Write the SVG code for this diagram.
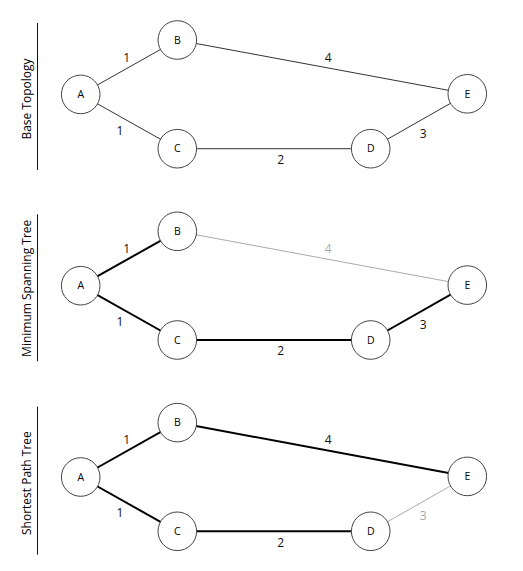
<svg xmlns="http://www.w3.org/2000/svg" width="523" height="571" viewBox="0 0 523 571">
<style>
  .node circle { fill: #ffffff; stroke: #444444; stroke-width: 1; }
  .node text { font-family: "Open Sans", "DejaVu Sans", sans-serif; font-size: 10.5px; fill: #000000; text-anchor: middle; }
  .e { stroke: #333333; stroke-width: 1; fill: none; }
  .t { stroke: #000000; stroke-width: 2; fill: none; }
  .g { stroke: #aaaaaa; stroke-width: 1; fill: none; }
  .lbl { font-family: "Open Sans", "DejaVu Sans", sans-serif; font-size: 12px; fill: #111111; text-anchor: middle; }
  .lbl.gray { fill: #aaaaaa; }
  .title { font-family: "Open Sans", "DejaVu Sans", sans-serif; font-size: 12px; fill: #000000; text-anchor: middle; }
  .axis { stroke: #111111; stroke-width: 1; }
</style>
<rect width="523" height="571" fill="#ffffff"/>

<!-- Panel 1: Base Topology -->
<g id="panel1">
  <g id="p1-axis">
    <line class="axis" x1="37.5" y1="23" x2="37.5" y2="170"/>
    <text class="title" transform="translate(30.5,99) rotate(-90)">Base Topology</text>
  </g>
  <g id="p1-connectors">
    <line class="e" x1="80.7" y1="94.4" x2="177.3" y2="40"/>
    <line class="e" x1="80.7" y1="94.4" x2="177.3" y2="148.7"/>
    <line class="e" x1="177.3" y1="40" x2="467.3" y2="93.8"/>
    <line class="e" x1="177.3" y1="148.7" x2="370.7" y2="148.7"/>
    <line class="e" x1="370.7" y1="148.7" x2="467.3" y2="93.8"/>
    <text class="lbl" x="126.7" y="61.6">1</text>
    <text class="lbl" x="120" y="134.9">1</text>
    <text class="lbl" x="328.3" y="61.6">4</text>
    <text class="lbl" x="280.7" y="164.2">2</text>
    <text class="lbl" x="423.3" y="137.6">3</text>
  </g>
  <g id="p1-A" class="node"><circle cx="80.7" cy="94.4" r="19.3"/><text x="80.7" y="98.1">A</text></g>
  <g id="p1-B" class="node"><circle cx="177.3" cy="40" r="19.3"/><text x="177.3" y="43.7">B</text></g>
  <g id="p1-C" class="node"><circle cx="177.3" cy="148.7" r="19.3"/><text x="177.3" y="152.4">C</text></g>
  <g id="p1-D" class="node"><circle cx="370.7" cy="148.7" r="19.3"/><text x="370.7" y="152.4">D</text></g>
  <g id="p1-E" class="node"><circle cx="467.3" cy="93.8" r="19.3"/><text x="467.3" y="97.5">E</text></g>
</g>

<!-- Panel 2: Minimum Spanning Tree -->
<g id="panel2" transform="translate(0,191.3)">
  <g id="p2-axis">
    <line class="axis" x1="37.5" y1="23" x2="37.5" y2="170"/>
    <text class="title" transform="translate(30.5,97) rotate(-90)">Minimum Spanning Tree</text>
  </g>
  <g id="p2-connectors">
    <line class="t" x1="80.7" y1="94.4" x2="177.3" y2="40"/>
    <line class="t" x1="80.7" y1="94.4" x2="177.3" y2="148.7"/>
    <line class="g" x1="177.3" y1="40" x2="467.3" y2="93.8"/>
    <line class="t" x1="177.3" y1="148.7" x2="370.7" y2="148.7"/>
    <line class="t" x1="370.7" y1="148.7" x2="467.3" y2="93.8"/>
    <text class="lbl" x="126.7" y="61.6">1</text>
    <text class="lbl" x="120" y="134.9">1</text>
    <text class="lbl gray" x="328.3" y="61.6">4</text>
    <text class="lbl" x="280.7" y="164.2">2</text>
    <text class="lbl" x="423.3" y="137.6">3</text>
  </g>
  <g id="p2-A" class="node"><circle cx="80.7" cy="94.4" r="19.3"/><text x="80.7" y="98.1">A</text></g>
  <g id="p2-B" class="node"><circle cx="177.3" cy="40" r="19.3"/><text x="177.3" y="43.7">B</text></g>
  <g id="p2-C" class="node"><circle cx="177.3" cy="148.7" r="19.3"/><text x="177.3" y="152.4">C</text></g>
  <g id="p2-D" class="node"><circle cx="370.7" cy="148.7" r="19.3"/><text x="370.7" y="152.4">D</text></g>
  <g id="p2-E" class="node"><circle cx="467.3" cy="93.8" r="19.3"/><text x="467.3" y="97.5">E</text></g>
</g>

<!-- Panel 3: Shortest Path Tree -->
<g id="panel3" transform="translate(0,382.6)">
  <g id="p3-axis">
    <line class="axis" x1="37.5" y1="24" x2="37.5" y2="172"/>
    <text class="title" transform="translate(30.5,100.5) rotate(-90)">Shortest Path Tree</text>
  </g>
  <g id="p3-connectors">
    <line class="t" x1="80.7" y1="94.4" x2="177.3" y2="40"/>
    <line class="t" x1="80.7" y1="94.4" x2="177.3" y2="148.7"/>
    <line class="t" x1="177.3" y1="40" x2="467.3" y2="93.8"/>
    <line class="t" x1="177.3" y1="148.7" x2="370.7" y2="148.7"/>
    <line class="g" x1="370.7" y1="148.7" x2="467.3" y2="93.8"/>
    <text class="lbl" x="126.7" y="61.6">1</text>
    <text class="lbl" x="120" y="134.9">1</text>
    <text class="lbl" x="328.3" y="61.6">4</text>
    <text class="lbl" x="280.7" y="164.2">2</text>
    <text class="lbl gray" x="423.3" y="137.6">3</text>
  </g>
  <g id="p3-A" class="node"><circle cx="80.7" cy="94.4" r="19.3"/><text x="80.7" y="98.1">A</text></g>
  <g id="p3-B" class="node"><circle cx="177.3" cy="40" r="19.3"/><text x="177.3" y="43.7">B</text></g>
  <g id="p3-C" class="node"><circle cx="177.3" cy="148.7" r="19.3"/><text x="177.3" y="152.4">C</text></g>
  <g id="p3-D" class="node"><circle cx="370.7" cy="148.7" r="19.3"/><text x="370.7" y="152.4">D</text></g>
  <g id="p3-E" class="node"><circle cx="467.3" cy="93.8" r="19.3"/><text x="467.3" y="97.5">E</text></g>
</g>
</svg>
